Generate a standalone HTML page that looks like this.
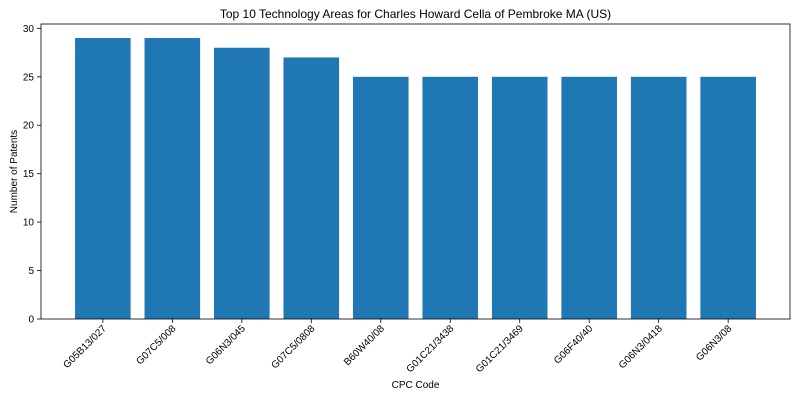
<!DOCTYPE html>
<html><head><meta charset="utf-8"><style>body{margin:0;background:#fff}svg{font-family:"Liberation Sans","DejaVu Sans",sans-serif}</style></head>
<body>
<svg id="c" width="800" height="400"></svg>
<script>
const categories=["G05B13/027","G07C5/008","G06N3/045","G07C5/0808","B60W40/08","G01C21/3438","G01C21/3469","G06F40/40","G06N3/0418","G06N3/08"];
const values=[29,29,28,27,25,25,25,25,25,25];
const yTicks=[0,5,10,15,20,25,30];
const NS="http://www.w3.org/2000/svg";
const svg=document.getElementById('c');
const L=41,R=790,T=24,B=319;
const x=i=>L+(i+0.89)/10.78*(R-L);
const y=v=>B-v*(B-T)/30.45;
function mk(t,a,p){const e=document.createElementNS(NS,t);for(const k in a)e.setAttribute(k,a[k]);(p||svg).appendChild(e);return e;}
const bw=0.8/10.78*(R-L);
categories.forEach((c,i)=>{
 const r=mk('rect',{x:x(i)-bw/2,y:y(values[i]),width:bw,height:B-y(values[i]),fill:'#1f77b4'});
 
 
 mk('line',{x1:x(i),x2:x(i),y1:B,y2:B+4,stroke:'#000','stroke-width':0.8});
 const t=mk('text',{x:x(i)+4,y:B+10,'font-size':10,'text-anchor':'end',transform:`rotate(-45 ${x(i)+4} ${B+10})`});
 t.textContent=c;
 
 
});
yTicks.forEach(v=>{
 mk('line',{x1:L-4,x2:L,y1:y(v),y2:y(v),stroke:'#000','stroke-width':0.8});
 const t=mk('text',{x:L-7,y:y(v)+3.5,'font-size':10,'text-anchor':'end'});
 t.textContent=v;
 
 
});
const fr=mk('rect',{x:L,y:T,width:R-L,height:B-T,fill:'none',stroke:'#000','stroke-width':0.8});


const ti=mk('text',{x:(L+R)/2,y:18,'font-size':12,'text-anchor':'middle'});ti.textContent='Top 10 Technology Areas for Charles Howard Cella of Pembroke MA (US)';


const xt=mk('text',{x:(L+R)/2,y:388,'font-size':10,'text-anchor':'middle'});xt.textContent='CPC Code';


const yt=mk('text',{x:17,y:(T+B)/2,'font-size':10,'text-anchor':'middle',transform:`rotate(-90 17 ${(T+B)/2})`});yt.textContent='Number of Patents';


</script>
</body></html>
